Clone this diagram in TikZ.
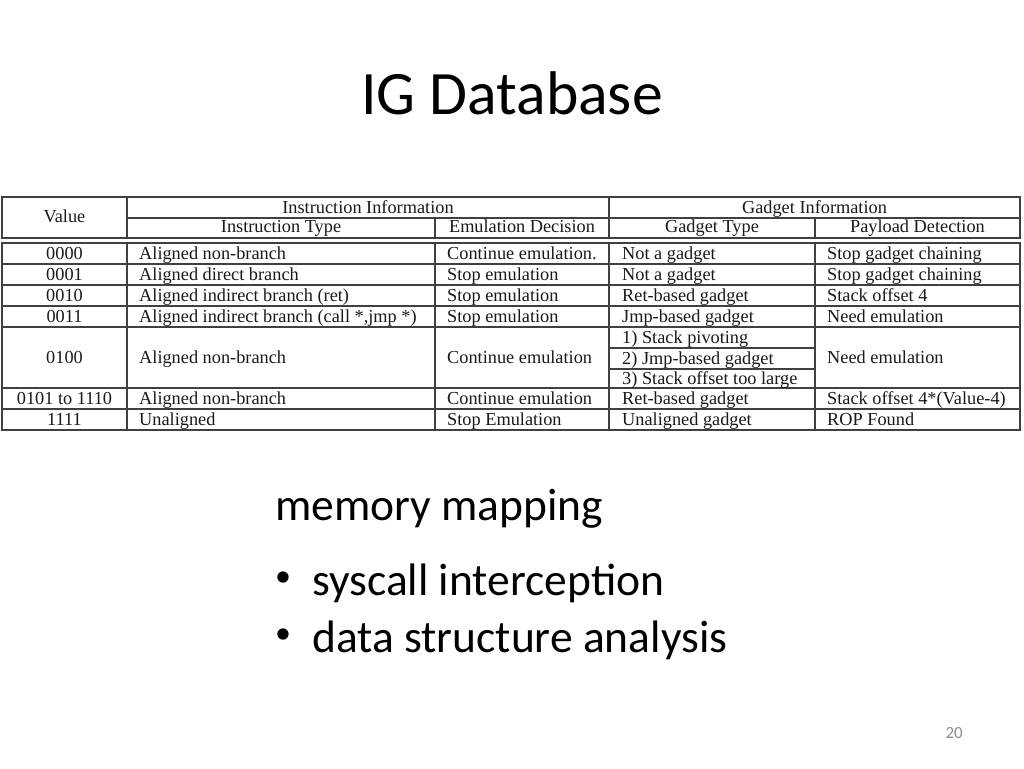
\documentclass[tikz,border=0pt]{standalone}
\usepackage{fontspec}
\setmainfont{Carlito}
\newfontfamily\tabfont{Liberation Serif}
\begin{document}
\begin{tikzpicture}[x=1pt,y=-1pt,
    grid/.style={line width=1.2pt,draw=black!75},
    tab/.style={font=\tabfont\fontsize{18.3}{21}\selectfont,inner sep=0pt,text=black!90},
    bodytext/.style={font=\fontsize{45.5}{54}\selectfont,inner sep=0pt,anchor=base west},
    bullet/.style={font=\fontsize{32}{40}\selectfont,inner sep=0pt,anchor=base west}]
    \useasboundingbox (0,0) rectangle (1024,768);
    \node[font=\fontsize{61.7}{74}\selectfont,inner sep=0pt,anchor=base] (title) at (512,114) {IG Database};
    % header box
    \draw[grid] (2,197) rectangle (1020,238);
    \draw[grid] (127,197) -- (127,238);
    \draw[grid] (609,197) -- (609,238);
    \draw[grid] (127,218) -- (1020,218);
    \draw[grid] (435,218) -- (435,238);
    \draw[grid] (815,218) -- (815,238);
    \node[tab,anchor=base] (hvalue) at (64.5,222) {Value};
    \node[tab,anchor=base] (hinstr) at (368,213) {Instruction Information};
    \node[tab,anchor=base] (hgadget) at (814.5,213) {Gadget Information};
    \node[tab,anchor=base] (hitype) at (281,232.5) {Instruction Type};
    \node[tab,anchor=base] (hedec) at (522,232.5) {Emulation Decision};
    \node[tab,anchor=base] (hgtype) at (712,232.5) {Gadget Type};
    \node[tab,anchor=base] (hpdet) at (917.5,232.5) {Payload Detection};
    % body box
    \draw[grid] (2,243) rectangle (1020,430);
    \foreach \x in {127,435,609,815} \draw[grid] (\x,243) -- (\x,430);
    \foreach \y in {264,285,306,327,388,409} \draw[grid] (2,\y) -- (1020,\y);
    \draw[grid] (609,348) -- (815,348);
    \draw[grid] (609,369) -- (815,369);
    \foreach \n/\b/\cv/\ci/\ce/\cg/\cp in {
        a/259.5/0000/Aligned non-branch/Continue emulation./Not a gadget/Stop gadget chaining,
        b/280.5/0001/Aligned direct branch/Stop emulation/Not a gadget/Stop gadget chaining,
        c/301.5/0010/Aligned indirect branch (ret)/Stop emulation/Ret-based gadget/Stack offset 4,
        d/322.5/0011/{Aligned indirect branch (call *,jmp *)}/Stop emulation/Jmp-based gadget/Need emulation,
        e/363/0100/Aligned non-branch/Continue emulation//Need emulation,
        f/404.5/0101 to 1110/Aligned non-branch/Continue emulation/Ret-based gadget/Stack offset 4*(Value-4),
        g/425.5/1111/Unaligned/Stop Emulation/Unaligned gadget/ROP Found}{
        \node[tab,anchor=base] (val-\n) at (64.5,\b) {\cv};
        \node[tab,anchor=base west] (itype-\n) at (139,\b) {\ci};
        \node[tab,anchor=base west] (edec-\n) at (447,\b) {\ce};
        \node[tab,anchor=base west] (gtype-\n) at (622,\b) {\cg};
        \node[tab,anchor=base west] (pdet-\n) at (827,\b) {\cp};
    }
    \node[tab,anchor=base west] (gtype-e1) at (622,343.5) {1) Stack pivoting};
    \node[tab,anchor=base west] (gtype-e2) at (622,364.5) {2) Jmp-based gadget};
    \node[tab,anchor=base west] (gtype-e3) at (622,384) {3) Stack offset too large};
    % text below
    \node[bodytext] (mem) at (275,520) {memory mapping};
    \node[bullet] (bul1) at (275,586) {•};
    \node[bodytext] (sys) at (312,595) {syscall interception};
    \node[bullet] (bul2) at (275,643) {•};
    \node[bodytext] (data) at (312,652) {data structure analysis};
    \node[font=\fontsize{17}{20}\selectfont,text=black!45,inner sep=0pt,anchor=base east] (page) at (963,738) {20};
\end{tikzpicture}
\end{document}
